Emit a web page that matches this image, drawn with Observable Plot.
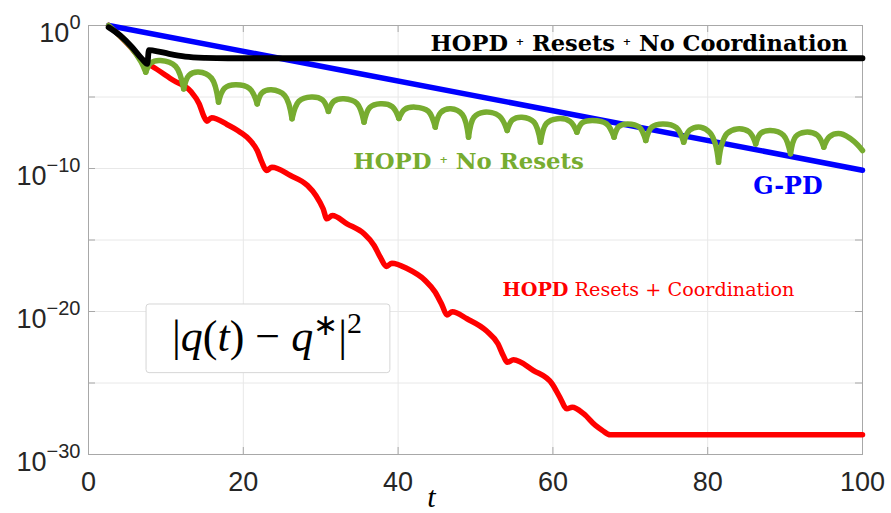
<!DOCTYPE html>
<html>
<head>
<meta charset="utf-8">
<script src="https://cdn.jsdelivr.net/npm/d3@7"></script>
<script src="https://cdn.jsdelivr.net/npm/@observablehq/plot@0.6"></script>
<style>
  html, body { margin: 0; padding: 0; background: #fff; }
</style>
</head>
<body>
<div id="chart"></div>
<script>
// Squared distance to the optimum, |q(t) - q*|^2, stored as log10 values.
// Each entry is [t, log10 error].

// G-PD: straight decay on the log axis
const gpdPts = [[2.6, 0], [100, -10.12]];

// HOPD + Resets + No Coordination
const noCoordPts = [
  [2.6, -0.12], [4.1, -0.7], [5.6, -1.5], [6.9, -2.33], [7.6, -2.68],
  [7.8, -1.72], [8.4, -1.75], [10.4, -1.98], [12.5, -2.17], [15.1, -2.26],
  [18.0, -2.29], [100, -2.29]
];

// HOPD + No Resets (scalloped decay with sharp dips)
const noResetPts = [
  [2.6, 0], [4.1, -0.75], [5.6, -1.6], [6.8, -2.55],
  [7.4, -3.26], [8.07, -2.61], [9.3, -2.45], [11.25, -2.85],
  [12.3, -4.43], [12.97, -3.49], [14.2, -3.26], [15.89, -3.68],
  [16.8, -5.36], [17.57, -4.39], [19.0, -4.15], [20.82, -4.42],
  [21.8, -5.48], [22.43, -4.70], [23.6, -4.5], [25.36, -4.90],
  [26.3, -6.52], [27.18, -5.30], [28.8, -5.0], [30.23, -5.2],
  [31.0, -6.0], [31.7, -5.30], [33.0, -5.13], [34.69, -5.46],
  [35.6, -6.76], [36.34, -5.74], [37.7, -5.48], [39.26, -5.68],
  [40.1, -6.5], [40.84, -5.87], [42.2, -5.71], [43.89, -5.99],
  [44.8, -7.11], [45.5, -6.09], [46.8, -5.83], [48.3, -6.23],
  [49.1, -7.81], [49.8, -6.41], [51.1, -6.06], [53.05, -6.32],
  [54.1, -7.34], [54.77, -6.60], [56.0, -6.41], [57.56, -6.76],
  [58.4, -8.16], [59.17, -6.85], [60.6, -6.52], [62.23, -6.71],
  [63.1, -7.46], [63.8, -6.80], [65.1, -6.64], [66.92, -6.87],
  [67.9, -7.81], [68.5, -7.07], [69.6, -6.88], [71.16, -7.11],
  [72.0, -8.04], [72.77, -7.11], [74.2, -6.88], [75.96, -7.14],
  [76.9, -8.16], [77.67, -7.32], [79.1, -7.11], [80.3, -7.5], [81.0, -8.3],
  [81.4, -9.56], [81.8, -8.35], [82.5, -7.55], [83.8, -7.23], [85.36, -7.44],
  [86.2, -8.28], [86.87, -7.53], [88.1, -7.34], [89.79, -7.67],
  [90.7, -8.97], [91.37, -7.76], [92.6, -7.46], [94.16, -7.67],
  [95.0, -8.51], [95.77, -7.76], [97.2, -7.57], [98.9, -8.1], [100, -8.74]
];

// HOPD Resets + Coordination
const coordPts = [
  [2.6, 0], [4.1, -0.75], [5.6, -1.6], [6.9, -2.45], [8.2, -2.85],
  [11.0, -3.85], [13.2, -4.6], [14.3, -5.48], [14.9, -6.35], [15.3, -6.69],
  [15.9, -6.45], [17.9, -6.92], [19.6, -7.46], [20.9, -8.04], [21.8, -8.74],
  [22.4, -9.56], [23.0, -10.14], [23.7, -9.91], [26.1, -10.49], [28.3, -11.19],
  [29.4, -11.9], [30.3, -12.8], [30.8, -13.52], [31.5, -13.29], [33.4, -13.87],
  [35.6, -14.57], [36.9, -15.38], [37.7, -16.2], [38.5, -16.85], [39.2, -16.62],
  [41.2, -17.01], [43.5, -17.83], [44.8, -18.65], [45.7, -19.58], [46.3, -20.24],
  [47.0, -20.02], [48.9, -20.51], [51.4, -21.35], [52.9, -22.26], [53.6, -23.1],
  [54.1, -23.55], [54.9, -23.38], [57.5, -24.13], [59.9, -25.06], [60.9, -26.0],
  [61.8, -26.8], [62.5, -26.69], [64.0, -27.16], [65.5, -27.97], [66.4, -28.32],
  [67.4, -28.62], [100, -28.62]
];

// Axis ticks
const xTicks = [0, 20, 40, 60, 80, 100];
const yTickExps = [0, -5, -10, -15, -20, -25, -30];
const yLabelExps = [0, -10, -20, -30];

// Label texts
const labelNoCoord = "HOPD + Resets + No Coordination";
const labelNoReset = "HOPD + No Resets";
const labelGpd = "G-PD";
const labelCoord = "HOPD Resets + Coordination";
const labelQuantity = "|q(t) − q*|²";

const toRows = (pts) => pts.map(([t, e]) => ({t, v: 10 ** e}));

// Split a scalloped series at its sharp local minima so each arc is smoothed on its own
function splitAtDips(pts) {
  const rows = [];
  let seg = 0;
  pts.forEach(([t, e], i) => {
    rows.push({t, v: 10 ** e, seg});
    const prev = pts[i - 1], next = pts[i + 1];
    if (prev && next && e < prev[1] && e < next[1]) {
      seg++;
      rows.push({t, v: 10 ** e, seg});
    }
  });
  return rows;
}

const frameColor = "#a8a8a8";
const gridColor = "#e8e8e8";
const W = 891, H = 513, mL = 88, mR = 29, mT = 25, mB = 59;
const innerW = W - mL - mR, innerH = H - mT - mB;
const tickLen = 7;
const serif = "'DejaVu Serif', serif";
const mathSerif = "'Liberation Serif', serif";

const plot = Plot.plot({
  width: W,
  height: H,
  marginLeft: mL,
  marginRight: mR,
  marginTop: mT,
  marginBottom: mB,
  style: {fontFamily: "'Liberation Sans', Arial, sans-serif", background: "#fff", overflow: "visible"},
  x: {domain: [0, 100]},
  y: {type: "log", domain: [1e-30, 1]},
  marks: [
    Plot.gridX(xTicks.slice(1, -1), {stroke: gridColor, strokeOpacity: 1}),
    Plot.gridY(yTickExps.map((e) => 10 ** e), {stroke: gridColor, strokeOpacity: 1}),
    Plot.frame({stroke: frameColor}),
    // inward ticks on all four sides
    Plot.tickX(xTicks, {x: (d) => d, stroke: frameColor, insetTop: innerH - tickLen}),
    Plot.tickX(xTicks, {x: (d) => d, stroke: frameColor, insetBottom: innerH - tickLen}),
    Plot.tickY(yTickExps.map((e) => 10 ** e), {y: (d) => d, stroke: frameColor, insetRight: innerW - tickLen}),
    Plot.tickY(yTickExps.map((e) => 10 ** e), {y: (d) => d, stroke: frameColor, insetLeft: innerW - tickLen}),
    Plot.axisX(xTicks, {tickSize: 0, tickPadding: 17.5, fontSize: 27, color: "#262626", label: null}),
    Plot.axisY(yLabelExps.map((e) => 10 ** e), {
      tickSize: 0, tickPadding: 8, fontSize: 27, color: "#262626", label: null, dy: 8, textAnchor: "end",
      tickFormat: (d) => "10^" + Math.round(Math.log10(d))
    }),
    // curves
    Plot.line(toRows(coordPts), {x: "t", y: "v", stroke: "#ff0000", strokeWidth: 5.5, curve: "monotone-x", strokeLinejoin: "round", strokeLinecap: "round"}),
    Plot.line(toRows(gpdPts), {x: "t", y: "v", stroke: "#0000ff", strokeWidth: 5.5, strokeLinecap: "round"}),
    Plot.line(splitAtDips(noResetPts), {x: "t", y: "v", z: "seg", stroke: "#77ac30", strokeWidth: 5.5, curve: "catmull-rom", strokeLinejoin: "round", strokeLinecap: "round"}),
    Plot.line(toRows(noCoordPts), {x: "t", y: "v", stroke: "#000000", strokeWidth: 5.8, curve: "monotone-x", strokeLinejoin: "round", strokeLinecap: "round"}),
    // curve labels
    Plot.text([labelNoCoord], {x: 44.2, y: 10 ** -1.75, textAnchor: "start", lineAnchor: "bottom", fill: "#000", fontSize: 22.5, fontFamily: serif, fontWeight: "bold"}),
    Plot.text([labelNoReset], {x: 34.2, y: 10 ** -10.05, textAnchor: "start", lineAnchor: "bottom", fill: "#77ac30", fontSize: 22.8, fontFamily: serif, fontWeight: "bold"}),
    Plot.text([labelGpd], {x: 85.9, y: 10 ** -11.75, textAnchor: "start", lineAnchor: "bottom", fill: "#0000ff", fontSize: 23.8, fontFamily: serif, fontWeight: "bold"}),
    Plot.text([labelCoord], {x: 53.5, y: 10 ** -18.95, textAnchor: "start", lineAnchor: "bottom", fill: "#ff0000", fontSize: 19.2, fontFamily: serif}),
    // boxed quantity label
    Plot.rect([0], {x1: 7.5, x2: 39.0, y1: 10 ** -19.51, y2: 10 ** -24.31, fill: "#fff", stroke: "#d6d6d6", rx: 3}),
    Plot.text([labelQuantity], {x: 23.06, y: 10 ** -22.73, textAnchor: "middle", lineAnchor: "bottom", fill: "#000", fontSize: 44, fontFamily: mathSerif}),
    // x-axis label
    Plot.text(["t"], {x: 44.3, y: 1e-30, dy: 52, textAnchor: "middle", lineAnchor: "bottom", fill: "#000", fontSize: 30, fontStyle: "italic", fontFamily: mathSerif})
  ]
});

document.getElementById("chart").appendChild(plot);

// Rich text helper: parts = [{text, size, weight, style, rise}]
function richText(el, parts) {
  el.textContent = "";
  let cur = 0;
  for (const p of parts) {
    const ts = document.createElementNS("http://www.w3.org/2000/svg", "tspan");
    const rise = p.rise || 0;
    const dy = -(rise - cur);
    if (dy) ts.setAttribute("dy", dy);
    cur = rise;
    if (p.size) ts.setAttribute("font-size", p.size);
    if (p.weight) ts.setAttribute("font-weight", p.weight);
    if (p.style) ts.setAttribute("font-style", p.style);
    ts.textContent = p.text;
    el.appendChild(ts);
  }
}

const svg = d3.select(plot.tagName.toLowerCase() === "svg" ? plot : plot.querySelector("svg"));
const textsMatching = (str) => svg.selectAll("text").filter(function () { return this.textContent === str; });

// y tick labels as 10 with a raised exponent
svg.selectAll("text").each(function () {
  const m = /^10\^(-?\d+)$/.exec(this.textContent);
  if (!m) return;
  const k = +m[1];
  richText(this, [
    {text: "10"},
    {text: (k < 0 ? "\u2212" : "") + Math.abs(k), size: 20, rise: 13}
  ]);
});

const smallPlus = {text: "+", size: 10, weight: "bold", rise: 6};
textsMatching(labelNoCoord).each(function () {
  richText(this, [{text: "HOPD "}, smallPlus, {text: " Resets "}, smallPlus, {text: " No Coordination"}]);
});
textsMatching(labelNoReset).each(function () {
  richText(this, [{text: "HOPD "}, smallPlus, {text: " No Resets"}]);
});
textsMatching(labelCoord).each(function () {
  richText(this, [{text: "HOPD", weight: "bold"}, {text: " Resets + Coordination"}]);
});
textsMatching(labelQuantity).each(function () {
  richText(this, [
    {text: "|"}, {text: "q", style: "italic"}, {text: "("}, {text: "t", style: "italic"},
    {text: ") \u2212 "}, {text: "q", style: "italic"}, {text: "\u2217", size: 30, rise: 16},
    {text: "|"}, {text: "2", size: 30, rise: 18}
  ]);
});
</script>
</body>
</html>
